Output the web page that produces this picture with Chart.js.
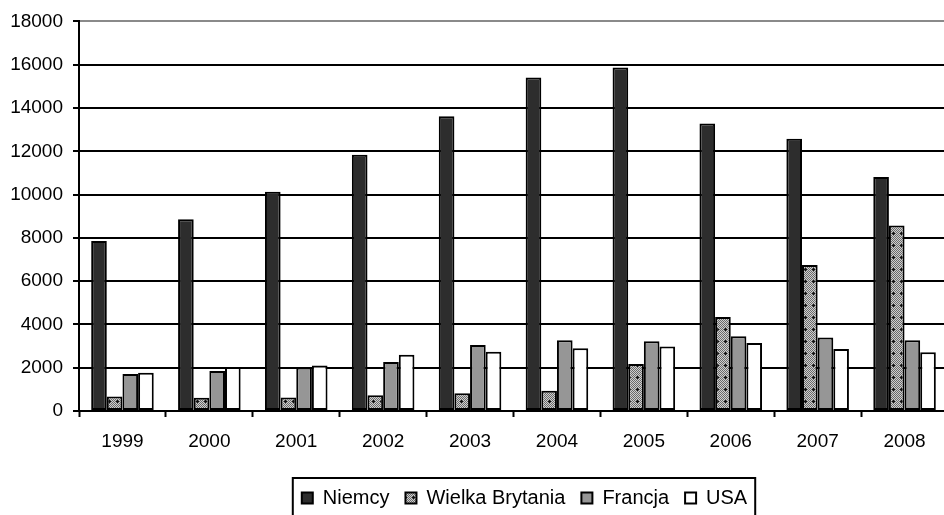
<!DOCTYPE html>
<html>
<head>
<meta charset="utf-8">
<script src="https://cdn.jsdelivr.net/npm/chart.js@4.4.1/dist/chart.umd.min.js"></script>
<style>
    body { margin: 0; overflow: hidden; background: #fff; }
    #wrapper { width: 1049px; height: 518px; }
</style>
</head>
<body>
<div id="wrapper">
    <canvas id="grafico" width="1049" height="518"></canvas>
</div>
<script>
/* *****
datos del grafico
***** */
const lata = ['1999', '2000', '2001', '2002', '2003', '2004', '2005', '2006', '2007', '2008'];
const niemcy = [7850, 8860, 10130, 11840, 13620, 15410, 15870, 13280, 12580, 10810];
const wielkaBrytania = [670, 610, 625, 730, 825, 935, 2170, 4340, 6740, 8570];
const francja = [1705, 1845, 2015, 2260, 3050, 3265, 3220, 3450, 3400, 3265];
const usa = [1770, 2030, 2105, 2600, 2740, 2895, 2985, 3140, 2860, 2720];
const yTicks = [0, 2000, 4000, 6000, 8000, 10000, 12000, 14000, 16000, 18000];

const FONT = "'Liberation Sans', Arial, sans-serif";

//trama punteada para Wielka Brytania
const makePattern = () => {
    const c = document.createElement('canvas');
    c.width = 8;
    c.height = 12;
    const ctx = c.getContext('2d');
    for (let y = 0; y < 12; y++) {
        for (let x = 0; x < 8; x++) {
            ctx.fillStyle = (x + y) % 2 ? '#cfcfcf' : '#6a6a6a';
            ctx.fillRect(x, y, 1, 1);
        }
    }
    ctx.fillStyle = '#111';
    ctx.fillRect(4, 5, 3, 1);
    ctx.fillRect(5, 4, 1, 3);
    return ctx.createPattern(c, 'repeat');
}

//marco alrededor de la leyenda
const legendFrame = {
    id: 'legendFrame',
    afterDraw: (chart) => {
        const boxes = chart.legend.legendHitBoxes;
        if (!boxes || !boxes.length) return;
        const first = boxes[0];
        const last = boxes[boxes.length - 1];
        const ctx = chart.ctx;
        ctx.save();
        ctx.strokeStyle = '#000';
        ctx.lineWidth = 2;
        ctx.strokeRect(first.left - 9, 478, last.left + last.width - first.left + 17, 60);
        ctx.restore();
    }
}

const newChart = (canvas) => {
    const datasets = [
        { label: 'Niemcy', data: niemcy, backgroundColor: '#2d2d2d' },
        { label: 'Wielka Brytania', data: wielkaBrytania, backgroundColor: makePattern() },
        { label: 'Francja', data: francja, backgroundColor: '#969696' },
        { label: 'USA', data: usa, backgroundColor: '#ffffff' }
    ].map((d) => ({
        ...d,
        borderColor: '#000',
        borderWidth: 2,
        borderSkipped: false,
        categoryPercentage: 0.72,
        barPercentage: 1
    }));

    const config = {
        type: 'bar',
        data: {
            labels: lata,
            datasets: datasets
        },
        options: {
            responsive: false,
            animation: false,
            devicePixelRatio: 1,
            layout: { padding: { top: 21, left: 0, right: 0, bottom: 0 } },
            plugins: {
                tooltip: { enabled: false },
                legend: {
                    position: 'bottom',
                    labels: {
                        font: { family: FONT, size: 20 },
                        color: '#000',
                        boxWidth: 11,
                        boxHeight: 11,
                        padding: 16,
                        useBorderRadius: false
                    }
                }
            },
            scales: {
                x: {
                    grid: {
                        drawOnChartArea: false,
                        drawTicks: true,
                        tickLength: 6,
                        tickColor: '#000',
                        tickWidth: 2,
                        offset: true
                    },
                    border: { color: '#000', width: 2 },
                    ticks: {
                        font: { family: FONT, size: 19 },
                        color: '#000',
                        padding: 13,
                        maxRotation: 0
                    },
                    afterFit: (s) => { s.height = 61; }
                },
                y: {
                    min: 0,
                    max: 18000,
                    afterBuildTicks: (s) => { s.ticks = yTicks.map((v) => ({ value: v })); },
                    grid: {
                        color: (c) => c.tick && c.tick.value === 18000 ? '#8a8a8a' : '#000',
                        lineWidth: 2,
                        tickLength: 6,
                        tickColor: '#000',
                        tickWidth: 2
                    },
                    border: { color: '#000', width: 2 },
                    ticks: {
                        font: { family: FONT, size: 19 },
                        color: '#000',
                        padding: 10,
                        callback: (v) => String(v)
                    },
                    afterFit: (s) => { s.width = 79; }
                },
                //eje vacio a la derecha para dejar el espacio del original
                y2: {
                    position: 'right',
                    display: true,
                    grid: { display: false, drawTicks: false },
                    border: { display: false },
                    ticks: { display: false },
                    afterFit: (s) => { s.width = 101; }
                }
            }
        },
        plugins: [legendFrame]
    }
    return new Chart(document.getElementById(canvas), config)
}

newChart('grafico');
</script>
</body>
</html>
